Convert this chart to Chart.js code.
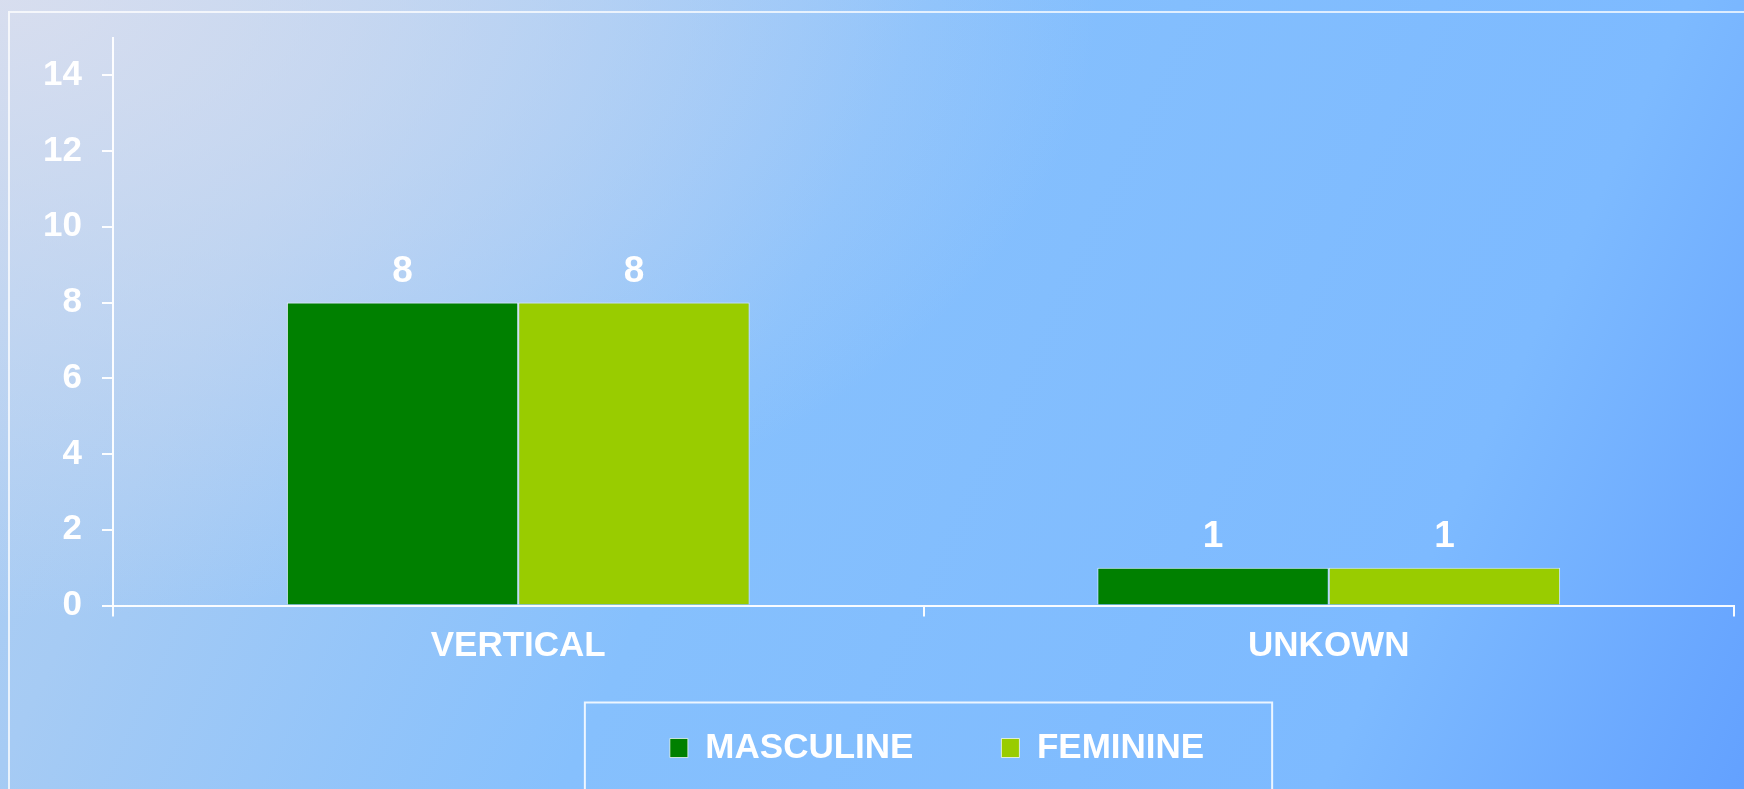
<!DOCTYPE html>
<html>
<head>
<meta charset="utf-8">
<title>Masculine / Feminine</title>
<script src="https://cdn.jsdelivr.net/npm/chart.js@4.4.0/dist/chart.umd.min.js"></script>
<style>
    html, body { margin: 0; padding: 0; }
    body {
        width: 1744px;
        height: 789px;
        overflow: hidden;
        position: relative;
        background:
            radial-gradient(ellipse 1100px 620px at 0 0, rgba(222, 224, 238, 0.85) 0%, rgba(222, 224, 238, 0) 100%),
            linear-gradient(115deg, #b2d0f2 0%, #a6cbf4 17%, #86c0fd 44%, #7dbaff 80%, #63a1ff 100%);
    }
    #frame {
        position: absolute;
        left: 8px;
        top: 11px;
        width: 1800px;
        height: 900px;
        border: 2px solid rgba(255, 255, 255, 0.75);
        box-sizing: border-box;
    }
    #chart { position: absolute; left: 0; top: 0; }
</style>
</head>
<body>
<div id="frame"></div>
<canvas id="chart" width="1744" height="789"></canvas>
<script>
// data
const categories = ['VERTICAL', 'UNKOWN'];
const seriesNames = ['MASCULINE', 'FEMININE'];
const masculine = [8, 1];
const feminine = [8, 1];
const yMax = 15;
const yStep = 2;

const fontFamily = '"Liberation Sans", Arial, sans-serif';
const white = 'rgba(255, 255, 255, 0.95)';

Chart.defaults.font.family = fontFamily;
Chart.defaults.font.weight = 'bold';
Chart.defaults.color = '#ffffff';

// numbers above the bars
const valueLabels = {
    id: 'valueLabels',
    afterDatasetsDraw(chart) {
        const ctx = chart.ctx;
        ctx.save();
        ctx.font = 'bold 37px ' + fontFamily;
        ctx.fillStyle = '#ffffff';
        ctx.textAlign = 'center';
        ctx.textBaseline = 'alphabetic';
        chart.data.datasets.forEach(function(ds, i) {
            chart.getDatasetMeta(i).data.forEach(function(bar, j) {
                ctx.fillText(ds.data[j], bar.x, bar.y - 21);
            });
        });
        ctx.restore();
    }
};

// legend sits centred under the plot, inside an open white box
const legendBox = {
    id: 'legendBox',
    afterLayout(chart) {
        const lg = chart.legend;
        const pad = lg.options.labels.padding;
        const size = lg.options.labels.font.size;
        // move the legend so its text row is centred at y = 748
        lg.left += 70;
        lg.right += 70;
        lg.top = 748 - size / 2 - pad;
        lg.bottom = chart.height;
        lg.height = lg.bottom - lg.top;
    },
    afterDraw(chart) {
        const boxes = chart.legend.legendHitBoxes;
        if (!boxes || !boxes.length) return;
        const first = boxes[0];
        const last = boxes[boxes.length - 1];
        const left = first.left - 85;
        const right = last.left + last.width + 68;
        const ctx = chart.ctx;
        ctx.save();
        ctx.strokeStyle = 'rgba(255, 255, 255, 0.85)';
        ctx.lineWidth = 2;
        ctx.strokeRect(left, first.top - 28, right - left, 200);
        ctx.restore();
    }
};

const ctx = document.getElementById('chart');

new Chart(ctx, {
    type: 'bar',
    data: {
        labels: categories,
        datasets: [{
            label: seriesNames[0],
            data: masculine,
            backgroundColor: '#008000',
            borderColor: 'rgba(255, 255, 255, 0.7)',
            borderWidth: 1
        }, {
            label: seriesNames[1],
            data: feminine,
            backgroundColor: '#99cc00',
            borderColor: 'rgba(255, 255, 255, 0.7)',
            borderWidth: 1
        }]
    },
    options: {
        responsive: false,
        animation: false,
        layout: {
            padding: { top: 37.5, right: 10, bottom: 14, left: 0 }
        },
        datasets: {
            bar: { categoryPercentage: 0.571, barPercentage: 1 }
        },
        scales: {
            x: {
                grid: { drawOnChartArea: false, drawTicks: true, tickLength: 11, color: white, lineWidth: 2 },
                border: { color: white, width: 2 },
                ticks: { font: { size: 35 }, padding: 9, maxRotation: 0 },
                afterFit: function(scale) { scale.height = 109.5; }
            },
            y: {
                min: 0,
                max: yMax,
                grid: { drawOnChartArea: false, drawTicks: true, tickLength: 11, color: white, lineWidth: 2 },
                border: { color: white, width: 2 },
                ticks: { stepSize: yStep, includeBounds: false, font: { size: 35 }, padding: 20 },
                afterFit: function(scale) {
                    scale.width = 113;
                    scale.paddingTop = 0;
                    scale.paddingBottom = 0;
                }
            }
        },
        plugins: {
            legend: {
                position: 'bottom',
                maxHeight: 60,
                labels: { boxWidth: 18, boxHeight: 19, padding: 88, font: { size: 35 } }
            },
            tooltip: { enabled: false }
        }
    },
    plugins: [valueLabels, legendBox]
});
</script>
</body>
</html>
